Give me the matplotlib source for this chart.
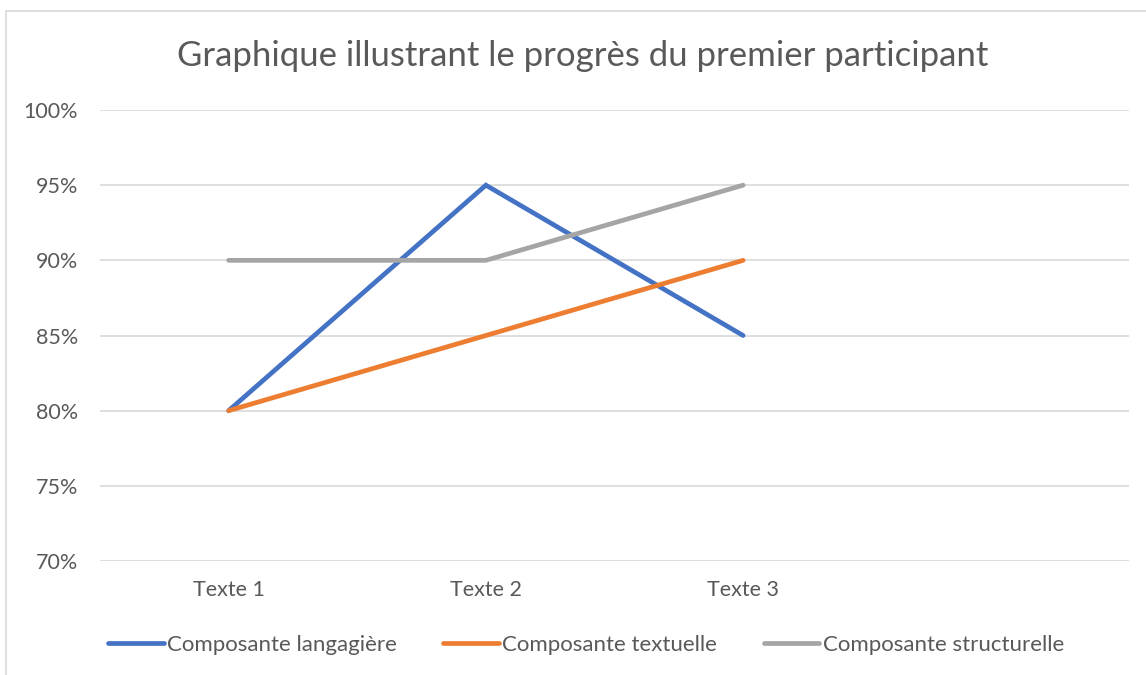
import matplotlib.pyplot as plt
from matplotlib.patches import Rectangle
from matplotlib.ticker import FuncFormatter

plt.rcParams['font.family'] = ['Lato', 'DejaVu Sans']

categories = ['Texte 1', 'Texte 2', 'Texte 3', '']
langagiere = [0.80, 0.95, 0.85]
textuelle = [0.80, 0.85, 0.90]
structurelle = [0.90, 0.90, 0.95]

text_col = '#595959'
grid_col = '#D9D9D9'

fig = plt.figure(figsize=(11.46, 6.75), dpi=100)
ax = fig.add_axes([100 / 1146, 1 - 561 / 675, 1029 / 1146, 451 / 675])

x = range(len(langagiere))
ax.plot(x, langagiere, color='#4472C4', lw=3.4, solid_capstyle='round',
        solid_joinstyle='miter', label='Composante langagière', zorder=3)
ax.plot(x, textuelle, color='#ED7D31', lw=3.4, solid_capstyle='round',
        solid_joinstyle='miter', label='Composante textuelle', zorder=3)
ax.plot(x, structurelle, color='#A5A5A5', lw=3.4, solid_capstyle='round',
        solid_joinstyle='miter', label='Composante structurelle', zorder=3)

ax.set_xlim(-0.5, len(categories) - 0.5)
ax.set_ylim(0.70, 1.00)
ax.set_yticks([0.70, 0.75, 0.80, 0.85, 0.90, 0.95, 1.00])
ax.yaxis.set_major_formatter(FuncFormatter(lambda v, p: f'{v * 100:.0f}%'))
ax.set_xticks(range(len(categories)))
ax.set_xticklabels(categories)
ax.tick_params(length=0, labelsize=15.5, colors=text_col)
ax.tick_params(axis='x', pad=14)
ax.tick_params(axis='y', pad=16)
ax.grid(axis='y', color=grid_col, lw=1.2)
ax.set_axisbelow(True)
for s in ax.spines.values():
    s.set_visible(False)

fig.text(583 / 1146, 1 - 56 / 675, 'Graphique illustrant le progrès du premier participant',
         ha='center', va='center', fontsize=25, color=text_col)

leg = fig.legend(loc='center', bbox_to_anchor=(586 / 1146, 1 - 645 / 675), ncol=3,
                 frameon=False, fontsize=16, handlelength=2.5, handletextpad=0.15,
                 columnspacing=2.1, labelcolor=text_col)

fig.patches.append(Rectangle((6 / 1146, -0.1), 1.2, 1 - 11 / 675 + 0.1,
                             transform=fig.transFigure, fill=False,
                             edgecolor=grid_col, lw=1.2))

fig.savefig('out.png', dpi=100, facecolor='white')
